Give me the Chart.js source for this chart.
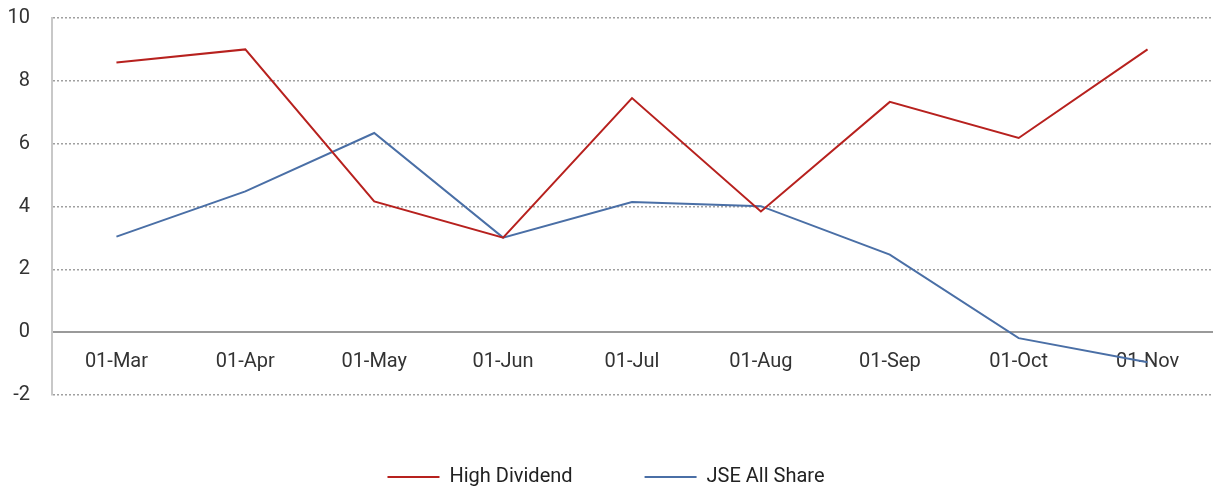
<!DOCTYPE html>
<html>
<head>
<meta charset="utf-8">
<script src="https://cdn.jsdelivr.net/npm/chart.js@4"></script>
<style>
  html, body { margin: 0; padding: 0; background: #fff; }
  #wrap { width: 1215px; height: 490px; }
</style>
</head>
<body>
<div id="wrap"><canvas id="c" width="1215" height="490"></canvas></div>
<script>
const categories = ['01-Mar', '01-Apr', '01-May', '01-Jun', '01-Jul', '01-Aug', '01-Sep', '01-Oct', '01-Nov'];
const highDividend = [8.58, 9.0, 4.16, 3.01, 7.45, 3.84, 7.33, 6.18, 9.0];
const jseAllShare = [3.04, 4.48, 6.34, 3.01, 4.14, 4.01, 2.47, -0.19, -0.96];
const yTicks = { min: -2, max: 10, step: 2 };

const FONT = 'Roboto, "Liberation Sans", sans-serif';

new Chart(document.getElementById('c'), {
  type: 'line',
  data: {
    labels: categories,
    datasets: [
      { label: 'High Dividend', data: highDividend, borderColor: '#B7211E', backgroundColor: '#B7211E', borderWidth: 2, pointRadius: 0, tension: 0 },
      { label: 'JSE All Share', data: jseAllShare, borderColor: '#4A6FA6', backgroundColor: '#4A6FA6', borderWidth: 2, pointRadius: 0, tension: 0 }
    ]
  },
  options: {
    responsive: false,
    animation: false,
    layout: { padding: { left: 0, right: 3, top: 18, bottom: -7 } },
    plugins: {
      legend: {
        position: 'bottom',
        labels: {
          boxWidth: 52, boxHeight: 2, padding: 72, color: '#222', font: { family: FONT, size: 20 },
          generateLabels: (chart) => Chart.defaults.plugins.legend.labels.generateLabels(chart).map(it => Object.assign(it, { lineWidth: 0 }))
        }
      },
      tooltip: { enabled: false }
    },
    scales: {
      x: {
        position: { y: 0 },
        offset: true,
        afterFit: (s) => { s.paddingTop = 0; s.paddingBottom = 0; },
        grid: { display: false, drawTicks: false },
        border: { display: true, color: '#9a9a9a', width: 2 },
        ticks: { padding: 18, color: '#333', font: { family: FONT, size: 20 }, maxRotation: 0 }
      },
      y: {
        min: yTicks.min, max: yTicks.max,
        afterFit: (s) => { s.width = 52; s.paddingTop = 0; s.paddingBottom = 0; },
        grid: {
          drawTicks: false,
          color: (ctx) => (ctx.tick && ctx.tick.value === 0) ? 'rgba(0,0,0,0)' : '#a0a0a0',
          lineWidth: 1.5
        },
        border: { display: true, color: '#c8c8c8', width: 2, dash: [2, 2] },
        ticks: { stepSize: yTicks.step, padding: 22, color: '#333', font: { family: FONT, size: 20 } }
      }
    }
  }
});
</script>
</body>
</html>
